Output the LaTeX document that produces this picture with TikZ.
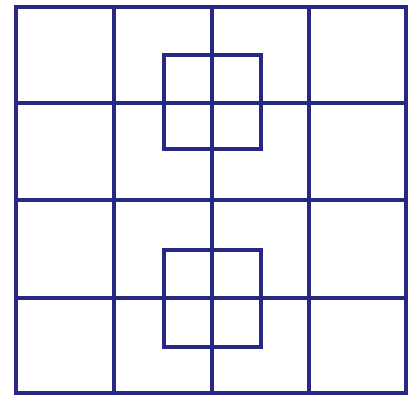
\documentclass[tikz,border=0pt]{standalone}
\definecolor{navy}{RGB}{38,40,132}
\begin{document}
\begin{tikzpicture}[x=1pt,y=-1pt,
  gridline/.style={draw=navy,line width=3.6pt,line cap=rect,line join=miter}]
\fill[white] (0,0) rectangle (409,400);
\useasboundingbox (0,0) rectangle (409,400);
% outer 4x4 grid
\draw[gridline] (16,7) rectangle (406,393);
\foreach \x in {114,212,309} \draw[gridline] (\x,7) -- (\x,393);
\foreach \y in {103,200,298} \draw[gridline] (16,\y) -- (406,\y);
% two overlaid squares
\draw[gridline] (164,55) rectangle (261,149);
\draw[gridline] (164,250) rectangle (261,347);
\end{tikzpicture}
\end{document}
